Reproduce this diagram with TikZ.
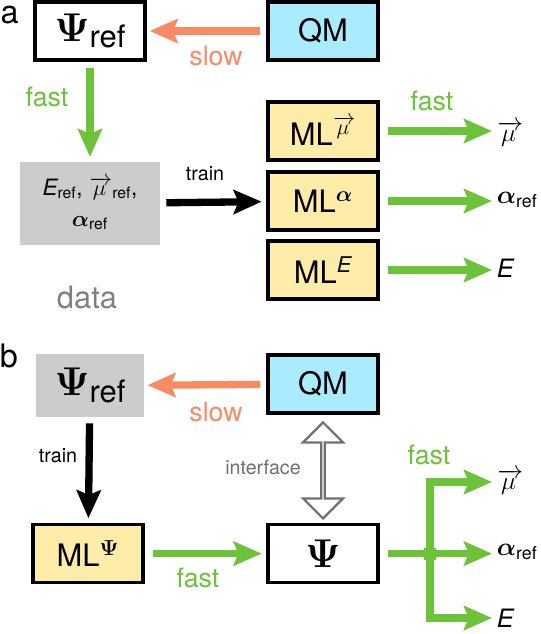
\documentclass[tikz,border=0pt]{standalone}
\usepackage{fix-cm}
\usepackage{amsmath,amssymb}
\usepackage{bm}
\usepackage{graphicx}
\usepackage[no-math]{fontspec}
\setmainfont{TeX Gyre Heros}
\usepackage{xcolor}
\usepackage{tikz}
\usetikzlibrary{positioning,arrows.meta,calc,shapes.arrows}

\definecolor{fastgreen}{RGB}{108,194,56}
\definecolor{slowred}{RGB}{250,138,98}
\definecolor{mlyellow}{RGB}{255,236,168}
\definecolor{qmcyan}{RGB}{170,236,255}
\definecolor{datagray}{RGB}{204,204,204}
\definecolor{labelgray}{RGB}{128,128,128}
\definecolor{ifacegray}{RGB}{112,112,112}

\newcommand{\bPsi}{\scalebox{1.3}{$\mathbf{\Psi}$}}
\newcommand{\refsub}{\raisebox{-0.4ex}{ref}}
\newcommand{\Eit}{\textit{E}}
\newcommand{\vmu}{\overrightarrow{\,\mu\;}}

\begin{document}
\begin{tikzpicture}[
  font=\fontsize{22}{26}\selectfont,
  >=Stealth,
  box/.style={draw, line width=2.2pt, minimum width=2.75cm, minimum height=1.45cm, inner sep=0pt},
  mlbox/.style={box, fill=mlyellow},
  qmbox/.style={box, fill=qmcyan},
  graybox/.style={fill=datagray, align=center, inner sep=0pt},
  tip/.style={-{Stealth[length=0.7cm, width=0.6cm, inset=0.12cm]}},
  flow/.style={tip, line width=5.5pt, fastgreen},
  slowflow/.style={tip, line width=5.2pt, slowred},
  trainflow/.style={tip, line width=5.2pt, black},
  outlbl/.style={anchor=west, font=\fontsize{18}{22}\selectfont},
  speed/.style={font=\fontsize{19}{22}\selectfont},
  small/.style={font=\fontsize{14}{17}\selectfont},
  panel/.style={font=\fontsize{23}{26}\selectfont},
  iface/.style={double arrow, shape border rotate=90, draw=ifacegray, line width=1.6pt, fill=white,
    minimum height=2.4cm, minimum width=1.0cm, double arrow head extend=0.29cm, inner sep=0pt},
]
\useasboundingbox (0,0) rectangle (13.5,-15.85);

% panel a
\node[panel] (pa) at (0.24,-0.38) {a};
\node[box] (psiA) at (2.25,-0.775) {\bPsi\refsub};
\node[qmbox] (qmA) at (8.075,-0.775) {QM};
\node[graybox, minimum width=3.5cm, minimum height=2.075cm, font=\fontsize{16}{22}\selectfont] (data) at (2.25,-5.09)
  {$\Eit_{\text{ref}}$, $\vmu_{\text{ref}}$,\\ $\bm{\alpha}_{\text{ref}}$};
\node[font=\fontsize{22}{26}\selectfont, text=labelgray] (datalbl) at (2.175,-7.43) {data};

\node[mlbox] (mlmu) at (8.075,-3.275) {ML$^{\vmu}$};
\node[mlbox] (mlal) at (8.075,-5.025) {ML$^{\bm{\alpha}}$};
\node[mlbox] (mlE) at (8.075,-6.75) {ML$^{\Eit}$};

\node[outlbl] (muA) at (12.3,-3.35) {$\vmu$};
\node[outlbl] (alA) at (12.3,-5.0) {$\bm{\alpha}_{\text{ref}}$};
\node[outlbl] (EA) at (12.3,-6.7) {$\Eit$};

\draw[slowflow, shorten <=0.15cm, shorten >=0.08cm] (qmA) -- (psiA);
\node[speed, text=slowred] (slowA) at (5.4,-1.4) {slow};
\draw[flow, shorten <=0.15cm, shorten >=0.12cm] (psiA) -- (data);
\node[speed, text=fastgreen] (fastA) at (1.175,-2.425) {fast};
\draw[trainflow, shorten <=0.15cm, shorten >=0.12cm] (data) -- (mlal);
\node[small] (trainA) at (5.125,-4.35) {train};

\draw[flow, shorten <=0.22cm] (mlmu.east) -- (mlmu.east -| muA.west);
\draw[flow, shorten <=0.22cm] (mlal.east) -- (mlal.east -| alA.west);
\draw[flow, shorten <=0.22cm] (mlE.east) -- (mlE.east -| EA.west);
\node[speed, text=fastgreen] (fastA2) at (10.8,-2.525) {fast};

% panel b
\node[panel] (pb) at (0.22,-8.9) {b};
\node[graybox, minimum width=2.7cm, minimum height=1.575cm] (psiB) at (2.25,-9.64) {\bPsi\refsub};
\node[qmbox] (qmB) at (8.075,-9.6) {QM};
\node[mlbox] (mlpsi) at (2.2,-13.84) {ML$^{\mathbf{\Psi}}$};
\node[box] (psiBox) at (8.075,-13.84) {\bPsi};

\draw[slowflow, shorten <=0.15cm, shorten >=0.08cm] (qmB) -- (psiB);
\node[speed, text=slowred] (slowB) at (5.4,-10.3) {slow};
\draw[trainflow, shorten <=0.15cm, shorten >=0.12cm] (psiB) -- (mlpsi);
\node[small] (trainB) at (1.45,-11.4) {train};
\draw[flow, shorten <=0.2cm, shorten >=0.12cm] (mlpsi) -- (psiBox);
\node[speed, text=fastgreen] (fastB) at (4.95,-14.45) {fast};

\node[iface] (ifc) at (8.075,-11.76) {};
\node[small, text=ifacegray] (ifclbl) at (6.575,-11.675) {interface};

% branching outputs
\node[outlbl] (muB) at (12.3,-12.05) {$\vmu$};
\node[outlbl] (alB) at (12.3,-13.8) {$\bm{\alpha}_{\text{ref}}$};
\node[outlbl] (EB) at (12.3,-15.45) {$\Eit$};
\node[fill=fastgreen, minimum size=0.3cm, inner sep=0pt] (jn) at (10.75,-13.84) {};
\draw[fastgreen, line width=5.5pt, shorten <=0.22cm] (psiBox.east) -- (jn.center);
\draw[flow] (jn.center) -- (jn.center -| alB.west);
\draw[flow] (jn.center) |- (muB.west);
\draw[flow] (jn.center) |- (EB.west);
\node[speed, text=fastgreen] (fastB2) at (10.725,-11.375) {fast};
\end{tikzpicture}
\end{document}
